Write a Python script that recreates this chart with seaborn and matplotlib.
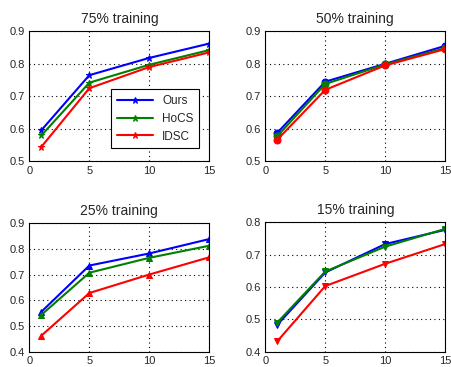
import pandas as pd
import seaborn as sns
import matplotlib.pyplot as plt

x_vals = [1, 5, 10, 15]
methods = ["Ours", "HoCS", "IDSC"]
colors = ["#0000ff", "#008000", "#ff0000"]

titles = ["75% training", "50% training", "25% training", "15% training"]
markers = ["*", "o", "^", "v"]
ylims = [(0.5, 0.9), (0.5, 0.9), (0.4, 0.9), (0.4, 0.8)]

ours_75 = [0.596, 0.765, 0.818, 0.862]
hocs_75 = [0.580, 0.742, 0.797, 0.842]
idsc_75 = [0.545, 0.725, 0.790, 0.835]

ours_50 = [0.588, 0.745, 0.800, 0.855]
hocs_50 = [0.578, 0.738, 0.798, 0.848]
idsc_50 = [0.567, 0.720, 0.795, 0.845]

ours_25 = [0.555, 0.735, 0.782, 0.838]
hocs_25 = [0.543, 0.707, 0.765, 0.812]
idsc_25 = [0.462, 0.628, 0.700, 0.767]

ours_15 = [0.483, 0.645, 0.733, 0.777]
hocs_15 = [0.490, 0.648, 0.725, 0.780]
idsc_15 = [0.432, 0.603, 0.672, 0.733]

series = [
    (ours_75, hocs_75, idsc_75),
    (ours_50, hocs_50, idsc_50),
    (ours_25, hocs_25, idsc_25),
    (ours_15, hocs_15, idsc_15),
]


def make_df(values):
    rows = []
    for name, vals in zip(methods, values):
        for xv, yv in zip(x_vals, vals):
            rows.append({"x": xv, "y": yv, "method": name})
    return pd.DataFrame(rows)


sns.set_style("white")
plt.rcParams["font.family"] = ["Liberation Sans", "DejaVu Sans"]

fig = plt.figure(figsize=(4.52, 3.67), dpi=100)
# axes positions in figure fractions (left, bottom, width, height)
positions = [
    (0.065, 0.560, 0.398, 0.355),
    (0.587, 0.560, 0.398, 0.355),
    (0.065, 0.042, 0.398, 0.350),
    (0.587, 0.042, 0.398, 0.352),
]

for i in range(4):
    ax = fig.add_axes(positions[i])
    df = make_df(series[i])
    sns.lineplot(data=df, x="x", y="y", hue="method", palette=colors,
                 marker=markers[i], markersize=5, linewidth=1.5,
                 ax=ax, legend=False)
    for line in ax.lines:
        line.set_markeredgecolor(line.get_color())
        line.set_markerfacecolor(line.get_color())
    ax.set_xlim(0, 15)
    ax.set_ylim(*ylims[i])
    ax.set_xticks([0, 5, 10, 15])
    lo, hi = ylims[i]
    ticks = [round(lo + 0.1 * k, 1) for k in range(int(round((hi - lo) / 0.1)) + 1)]
    ax.set_yticks(ticks)
    ax.set_yticklabels([f"{t:.1f}" for t in ticks])
    ax.grid(True, linestyle=(0, (1, 3)), color="black", linewidth=0.8)
    ax.set_xlabel("")
    ax.set_ylabel("")
    ax.set_title(titles[i], fontsize=10, pad=6)
    ax.tick_params(labelsize=8, length=0, pad=3)
    for s in ax.spines.values():
        s.set_color("black")
        s.set_linewidth(0.8)
    if i == 0:
        leg = ax.legend(ax.lines[:3], methods, loc="lower right",
                        bbox_to_anchor=(0.945, 0.1), borderaxespad=0,
                        fontsize=8.5, frameon=True, fancybox=False,
                        handlelength=3.0, labelspacing=0.5, borderpad=0.5)
        leg.get_frame().set_edgecolor("black")
        leg.get_frame().set_linewidth(0.8)
        leg.get_frame().set_alpha(1)

fig.savefig("out.png", dpi=100)
